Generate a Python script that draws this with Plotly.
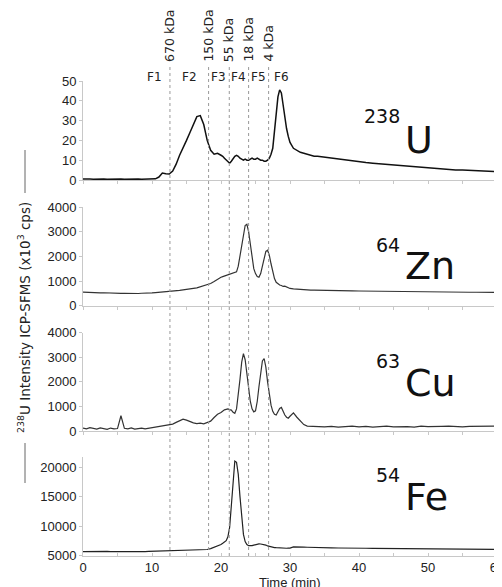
import plotly.graph_objects as go

# ---------------- data ----------------
time_min = [0, 0.5, 1, 1.5, 2, 2.5, 3, 3.5, 4, 4.5, 5, 5.5, 6, 6.5, 7, 7.5, 8, 8.5, 9, 9.5, 10,
            10.5, 11, 11.5, 12, 12.5, 13, 13.5, 14, 14.5, 15, 15.5, 16, 16.5, 17, 17.5, 18, 18.5, 19, 19.5,
            20, 20.25, 20.5, 20.75, 21, 21.25, 21.5, 21.75, 22, 22.25, 22.5, 22.75, 23, 23.25, 23.5, 23.75,
            24, 24.25, 24.5, 24.75, 25, 25.25, 25.5, 25.75, 26, 26.25, 26.5, 26.75, 27, 27.25, 27.5, 27.75,
            28, 28.25, 28.5, 28.75, 29, 29.25, 29.5, 29.75, 30,
            30.5, 31, 31.5, 32, 32.5, 33, 33.5, 34,
            35, 36, 37, 38, 39, 40, 41, 42, 43, 44, 45, 46, 47, 48, 49, 50, 51, 52, 53, 54, 55, 56, 57, 58, 59, 60]

u238 = [0.5, 0.6, 0.5, 0.4, 0.5, 0.6, 0.5, 0.4, 0.5, 0.5, 0.6, 0.5, 0.4, 0.5, 0.6, 0.5, 0.5, 0.4, 0.5, 0.6, 0.5,
        0.6, 1.5, 3.5, 3.2, 3.0, 4.5, 8, 12.5, 16, 20, 24, 28.5, 32, 32.5, 28, 20, 15, 13, 13.5,
        12.5, 12, 11, 10, 9, 8.5, 9.5, 11, 12, 12.5, 12, 11, 10.5, 10, 10.5, 10,
        10, 10.5, 11, 10.5, 10.5, 11, 10.5, 10, 10, 9.5, 9.5, 10, 11, 13, 16, 25,
        35, 42, 45.5, 44, 38, 31, 26, 22, 19,
        16, 15, 14, 13.5, 13, 12.5, 12, 12,
        11.5, 11, 10.5, 10, 9.5, 9, 8.8, 8.5, 8.2, 7.8, 7.5, 7.2, 7, 6.7, 6.4, 6.2, 5.9, 5.6, 5.3, 5.1,
        5, 4.8, 4.6, 4.5, 4.3, 4.2]

zn64 = [550, 540, 545, 530, 535, 520, 525, 515, 520, 510, 505, 500, 505, 495, 500, 500, 495, 505, 500, 510, 520,
        530, 540, 550, 560, 575, 590, 600, 620, 640, 650, 670, 700, 720, 760, 800, 860, 900, 980, 1080,
        1150, 1180, 1200, 1220, 1250, 1270, 1290, 1310, 1330, 1370, 1600, 2000, 2500, 2950, 3250, 3300,
        3000, 2500, 1900, 1500, 1300, 1180, 1150, 1300, 1600, 1950, 2200, 2250, 2050, 1700, 1350, 1100,
        950, 880, 840, 820, 780, 790, 760, 720, 700,
        680, 665, 655, 645, 640, 635, 630, 625,
        620, 615, 610, 605, 600, 595, 590, 585, 580, 575, 570, 570, 565, 565, 560, 560, 555, 555, 550, 550,
        550, 545, 545, 545, 540, 540]

cu63 = [120, 90, 140, 100, 80, 130, 110, 70, 120, 90, 100, 620, 110, 90, 130, 80, 100, 120, 90, 110, 130,
        150, 180, 200, 230, 250, 280, 350, 420, 480, 440, 380, 330, 300, 320, 290, 340, 400, 550, 680,
        750, 820, 860, 880, 900, 870, 850, 760, 720, 900, 1400, 2100, 2800, 3150, 2900, 2300,
        1700, 1200, 900, 780, 820, 1200, 1800, 2400, 2850, 2950, 2600, 2000, 1500, 1050, 800, 680,
        650, 780, 920, 960, 800, 650, 560, 520, 600,
        740, 560, 400, 260, 200, 190, 170, 180,
        170, 190, 160, 180, 200, 170, 190, 160, 180, 200, 170, 190, 180, 160, 200, 180, 170, 190, 200, 180,
        170, 190, 200, 180, 190, 200]

fe54 = [5700, 5720, 5680, 5700, 5710, 5690, 5700, 5720, 5700, 5690, 5710, 5730, 5700, 5720, 5740, 5710, 5720, 5730, 5700, 5720, 5740,
        5740, 5750, 5760, 5770, 5790, 5780, 5800, 5810, 5820, 5840, 5860, 5880, 5900, 5930, 5970, 6050, 6200, 6400, 6650,
        6900, 7100, 7300, 7550, 8200, 9800, 13500, 17800, 21000, 20800, 18800, 15000, 11500, 8600, 7400, 6900,
        6700, 6650, 6700, 6800, 6900, 6950, 7000, 6980, 6950, 6900, 6800, 6650, 6550, 6480, 6420, 6380,
        6350, 6320, 6300, 6320, 6280, 6300, 6260, 6300, 6280,
        6500, 6520, 6480, 6450, 6430, 6400, 6380, 6370,
        6350, 6330, 6300, 6320, 6280, 6300, 6260, 6250, 6240, 6230, 6220, 6210, 6200, 6200, 6180, 6170,
        6160, 6150, 6140, 6130, 6120, 6110, 6100, 6090, 6080, 6080]

# molecular-weight markers (elution time, min) and fraction labels
mw_times = [12.6, 18.2, 21.2, 24.0, 26.9]
mw_labels = ["670 kDa", "150 kDa", "55 kDa", "18 kDa", "4 kDa"]
fraction_times = [10.4, 15.5, 19.6, 22.6, 25.4, 28.7]
fraction_labels = ["F1", "F2", "F3", "F4", "F5", "F6"]

isotope_masses = ["238", "64", "63", "54"]
isotope_symbols = ["U", "Zn", "Cu", "Fe"]
y_ranges = [[0, 50], [0, 4000], [0, 4000], [5000, 21700]]
y_dticks = [10, 1000, 1000, 5000]

# ---------------- layout geometry (window pixels) ----------------
OFF = 8                      # page body margin of the html page
WIN_W, WIN_H = 502, 587
W, H = WIN_W - OFF, WIN_H - OFF
PL, PR, PT, PB = 83, 497, 80, 556          # plot area in window pixels
ML, MR, MT, MB = PL - OFF, W - (PR - OFF), PT - OFF, H - (PB - OFF)
PW, PH = PR - PL, PB - PT


def px_x(x):
    return (x - PL) / PW


def px_y(y):
    return (PB - y) / PH


panel_px = [(81, 180), (207, 305.7), (332.7, 431), (457, 555.7)]
domains = [[max(0, px_y(b)), min(1, px_y(t))] for t, b in panel_px]

series = [u238, zn64, cu63, fe54]
colors = ["#111111", "#333333", "#333333", "#222222"]
widths = [1.5, 1.2, 1.2, 1.2]

fig = go.Figure()
layout = dict(
    width=W, height=H, autosize=False,
    margin=dict(l=ML, r=MR, t=MT, b=MB, pad=0, autoexpand=False),
    paper_bgcolor="white", plot_bgcolor="white",
    showlegend=False,
    font=dict(family="Liberation Sans, Arial, sans-serif", size=13, color="#222"),
)

tick_font = dict(family="Liberation Sans, Arial, sans-serif", size=13, color="#222")

for i, vals in enumerate(series):
    n = i + 1
    xa = "x" if n == 1 else f"x{n}"
    ya = "y" if n == 1 else f"y{n}"
    fig.add_trace(go.Scatter(x=time_min, y=vals, mode="lines",
                             line=dict(color=colors[i], width=widths[i]),
                             xaxis=xa, yaxis=ya, hoverinfo="skip"))
    xkey = "xaxis" if n == 1 else f"xaxis{n}"
    ykey = "yaxis" if n == 1 else f"yaxis{n}"
    tdir = "inside" if n == 4 else "outside"
    layout[xkey] = dict(
        domain=[0, 1], range=[0, 60], anchor=ya, automargin=False,
        showline=True, linecolor="#c8c8c8", linewidth=1,
        ticks=tdir, ticklen=3, tickcolor="#c8c8c8", dtick=10, tick0=0,
        minor=dict(dtick=5, ticks=tdir, ticklen=3, tickcolor="#c8c8c8", showgrid=False),
        showgrid=False, zeroline=False,
        showticklabels=(n == 4), tickfont=tick_font, ticklabeloverflow="allow",
    )
    layout[ykey] = dict(
        domain=domains[i], range=y_ranges[i], anchor=xa, automargin=False,
        showline=True, linecolor="#c8c8c8", linewidth=1,
        ticks="outside", ticklen=3, tickcolor="#c8c8c8",
        dtick=y_dticks[i], tick0=0 if i < 3 else 5000, tickformat="d",
        showgrid=False, zeroline=False,
        tickfont=tick_font, ticklabeloverflow="allow",
    )

fig.update_layout(**layout)

shapes = []
annotations = []

# dotted molecular-weight lines across all panels
for t in mw_times:
    shapes.append(dict(type="line", xref="x4", yref="paper", x0=t, x1=t,
                       y0=0, y1=px_y(66), line=dict(color="#999999", width=1, dash="dot")))

for t, lab in zip(mw_times, mw_labels):
    annotations.append(dict(xref="x4", yref="paper", x=t, y=px_y(64), text=lab,
                            textangle=-90, showarrow=False, xanchor="center", yanchor="bottom",
                            font=dict(family="DejaVu Sans", size=12.5, color="#222")))

for t, lab in zip(fraction_times, fraction_labels):
    annotations.append(dict(xref="x4", yref="paper", x=t, y=px_y(77), text=lab,
                            showarrow=False, xanchor="center", yanchor="middle",
                            font=dict(family="DejaVu Sans", size=12, color="#222")))

# isotope labels
num_y = [116, 244.5, 360.5, 475]
sym_y = [140, 266, 382.5, 496.5]
for m, s, ny, sy in zip(isotope_masses, isotope_symbols, num_y, sym_y):
    annotations.append(dict(xref="paper", yref="paper", x=px_x(402), y=px_y(ny), text=m,
                            showarrow=False, xanchor="right", yanchor="middle",
                            font=dict(family="DejaVu Sans", size=19, color="#111")))
    annotations.append(dict(xref="paper", yref="paper", x=px_x(403), y=px_y(sy), text=s,
                            showarrow=False, xanchor="left", yanchor="middle",
                            font=dict(family="DejaVu Sans", size=38, color="#111")))

# y-axis title
annotations.append(dict(xref="paper", yref="paper", x=px_x(24), y=px_y(318),
                        text="<sup>238</sup>U Intensity ICP-SFMS (x10<sup>3</sup> cps)",
                        textangle=-90, showarrow=False, xanchor="center", yanchor="middle",
                        font=dict(family="DejaVu Sans", size=13.5, color="#222")))
for y0, y1 in [(150, 193), (443, 483)]:
    shapes.append(dict(type="line", xref="paper", yref="paper", x0=px_x(25), x1=px_x(25),
                       y0=px_y(y0), y1=px_y(y1), line=dict(color="#666666", width=1)))

# x-axis title
annotations.append(dict(xref="paper", yref="paper", x=px_x(290), y=px_y(582),
                        text="Time (min)", showarrow=False, xanchor="center", yanchor="middle",
                        font=dict(family="Liberation Sans, Arial, sans-serif", size=13, color="#222")))

fig.update_layout(shapes=shapes, annotations=annotations)

fig.write_html("out.html")
